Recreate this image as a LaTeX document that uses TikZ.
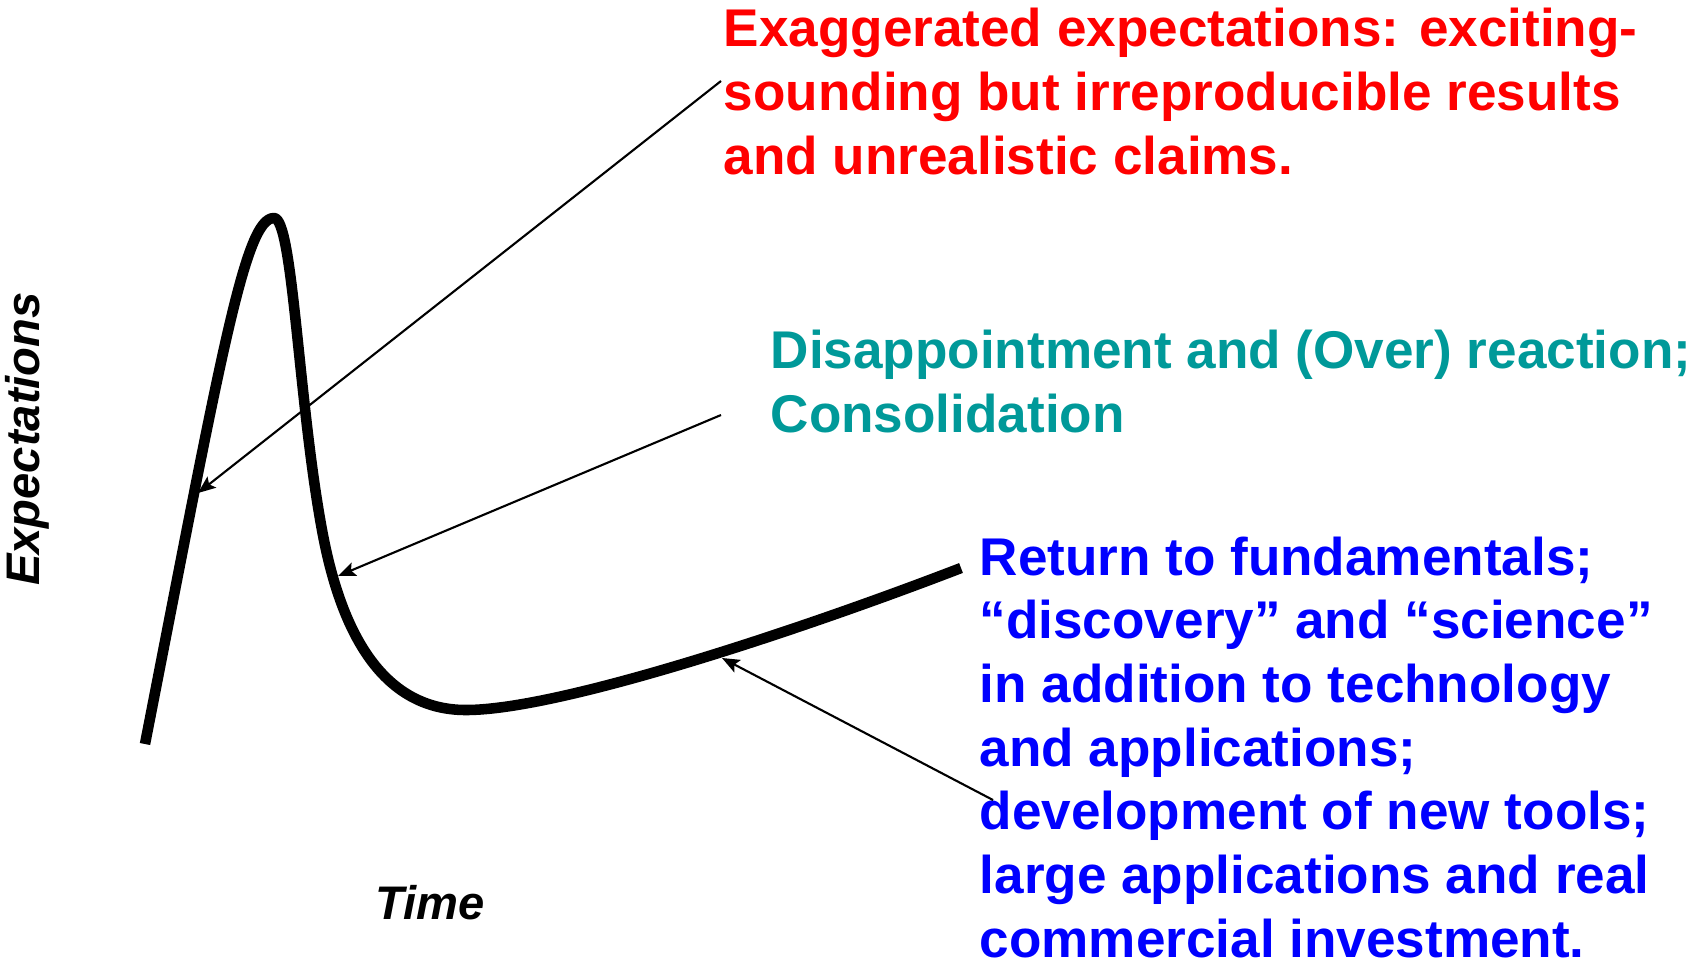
\documentclass[tikz,border=0pt]{standalone}
\usepackage{fontspec}
\setmainfont{Liberation Sans}
\usetikzlibrary{arrows.meta}
\definecolor{hyperred}{RGB}{255,0,0}
\definecolor{slumpteal}{RGB}{0,153,153}
\definecolor{plateaublue}{RGB}{0,0,255}
\begin{document}
\begin{tikzpicture}[x=0.01cm,y=-0.01cm,
  label/.style={anchor=base west,inner sep=0pt,align=left,
    font=\fontsize{15.1}{18.1}\selectfont\bfseries},
  axis/.style={inner sep=0pt,font=\fontsize{13.4}{16}\selectfont\bfseries\itshape},
  pointer/.style={line width=0.6pt,-{Stealth[length=5pt,width=4pt,inset=1pt]}},
  hype/.style={line width=3pt,line cap=butt,line join=round}]
\useasboundingbox (0,0) rectangle (1700,966);

% the expectation curve: rise, peak, slump, slow recovery
\draw[hype] (145,744) .. controls (222,350) and (245,218) .. (274,218)
  .. controls (293,218) and (298,400) .. (322,530)
  .. controls (340,628) and (380,710) .. (466,710)
  .. controls (560,710) and (800,630) .. (961,568);

% points on the curve that the pointers touch
\coordinate (peakpt) at (198,493);
\coordinate (slumppt) at (338,576);
\coordinate (plateaupt) at (722,658);

% axis titles
\node[axis,rotate=90] (ylab) at (27,439) {Expectations};
\node[axis] (xlab) at (430,903) {Time};

% phase descriptions (anchored at the baseline of their last line)
\node[label,text=hyperred] (hypetxt) at (723,174)
  {Exaggerated expectations: exciting-\\sounding but irreproducible results\\and unrealistic claims.};
\node[label,text=slumpteal] (slumptxt) at (770,432)
  {Disappointment and (Over) reaction;\\Consolidation};
\node[label,text=plateaublue] (plateautxt) at (979,957)
  {Return to fundamentals;\\“discovery” and “science”\\in addition to technology\\and applications;\\development of new tools;\\large applications and real\\commercial investment.};

% pointer tails beside the texts
\coordinate (hypetail) at (721,81);
\coordinate (slumptail) at (721,415);
\coordinate (plateautail) at (993,800);

\draw[pointer] (hypetail) -- (peakpt);
\draw[pointer] (slumptail) -- (slumppt);
\draw[pointer] (plateautail) -- (plateaupt);
\end{tikzpicture}
\end{document}
